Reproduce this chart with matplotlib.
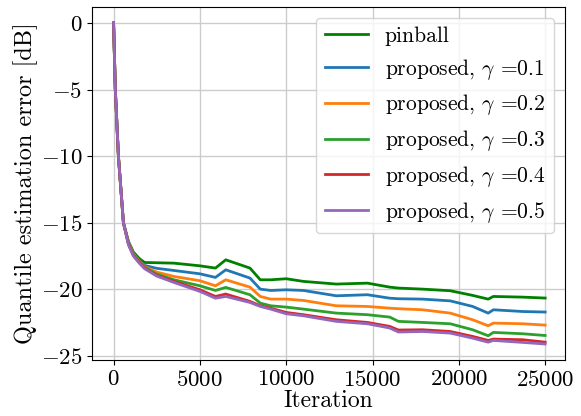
import matplotlib
matplotlib.use("Agg")
import matplotlib.pyplot as plt
import numpy as np

plt.rcParams['font.family'] = 'serif'
plt.rcParams['font.serif'] = ['cmr10']
plt.rcParams['mathtext.fontset'] = 'cm'
plt.rcParams['axes.formatter.use_mathtext'] = True
plt.rcParams['axes.unicode_minus'] = True

iters = [0, 100, 280, 570, 860, 1150, 1500, 1800, 2500, 3500, 5000, 5900, 6500, 7900,
         8500, 9100, 10000, 11000, 12900, 14700, 16000, 16500, 17900, 19500, 20800,
         21700, 22000, 23700, 25000]

pinball = [0, -5, -10, -15, -16.4, -17.2, -17.7, -17.98, -18.0, -18.03, -18.23, -18.4,
           -17.78, -18.4, -19.28, -19.28, -19.2, -19.4, -19.6, -19.53, -19.83, -19.9,
           -19.98, -20.1, -20.45, -20.73, -20.53, -20.58, -20.65]
g01 = [0, -5, -10, -15, -16.45, -17.3, -17.85, -18.2, -18.42, -18.58, -18.83, -19.1,
       -18.53, -19.15, -19.98, -20.08, -20.03, -20.08, -20.48, -20.4, -20.66, -20.7,
       -20.73, -20.86, -21.28, -21.78, -21.53, -21.66, -21.7]
g02 = [0, -5, -10, -15, -16.5, -17.35, -17.9, -18.3, -18.7, -19.03, -19.35, -19.73,
       -19.28, -19.83, -20.53, -20.73, -20.73, -20.83, -21.23, -21.28, -21.41, -21.45,
       -21.53, -21.78, -22.28, -22.73, -22.53, -22.58, -22.68]
g03 = [0, -5, -10, -15, -16.55, -17.4, -17.95, -18.35, -18.85, -19.28, -19.73, -20.08,
       -19.85, -20.4, -21.03, -21.23, -21.33, -21.48, -21.78, -21.9, -22.08, -22.4,
       -22.48, -22.58, -23.03, -23.48, -23.23, -23.33, -23.46]
g04 = [0, -5, -10, -15, -16.6, -17.45, -18.0, -18.4, -18.95, -19.4, -20.03, -20.53,
       -20.35, -20.9, -21.23, -21.41, -21.73, -21.9, -22.28, -22.48, -22.78, -23.05,
       -23.03, -23.16, -23.53, -23.83, -23.73, -23.78, -23.96]
g05 = [0, -5, -10, -15, -16.65, -17.5, -18.05, -18.45, -19.0, -19.48, -20.15, -20.66,
       -20.53, -20.98, -21.28, -21.48, -21.83, -21.98, -22.4, -22.58, -22.9, -23.2,
       -23.16, -23.28, -23.66, -23.96, -23.83, -23.98, -24.1]

labels = ['pinball', r'proposed, $\gamma$ =0.1', r'proposed, $\gamma$ =0.2',
          r'proposed, $\gamma$ =0.3', r'proposed, $\gamma$ =0.4', r'proposed, $\gamma$ =0.5']
colors = ['green', '#1f77b4', '#ff7f0e', '#2ca02c', '#d62728', '#9467bd']
series = [pinball, g01, g02, g03, g04, g05]

fig = plt.figure(figsize=(5.81, 4.16), dpi=100)
ax = fig.add_axes([92/581, 56/416, 473/581, 353/416])
for s, c, l in zip(series, colors, labels):
    ax.plot(iters, s, color=c, lw=2, label=l)

ax.set_xlim(-1250, 26150)
ax.set_ylim(-25.3, 1.2)
ax.set_xticks([0, 5000, 10000, 15000, 20000, 25000])
ax.set_yticks([0, -5, -10, -15, -20, -25])
ax.tick_params(labelsize=16.5)
ax.grid(True, color='#cccccc', lw=1)
ax.set_xlabel('Iteration', fontsize=17, labelpad=0)
ax.set_ylabel('Quantile estimation error [dB]', fontsize=17.5, labelpad=2)
ax.legend(loc='upper right', fontsize=15.5)
fig.savefig('out.png', dpi=100)
